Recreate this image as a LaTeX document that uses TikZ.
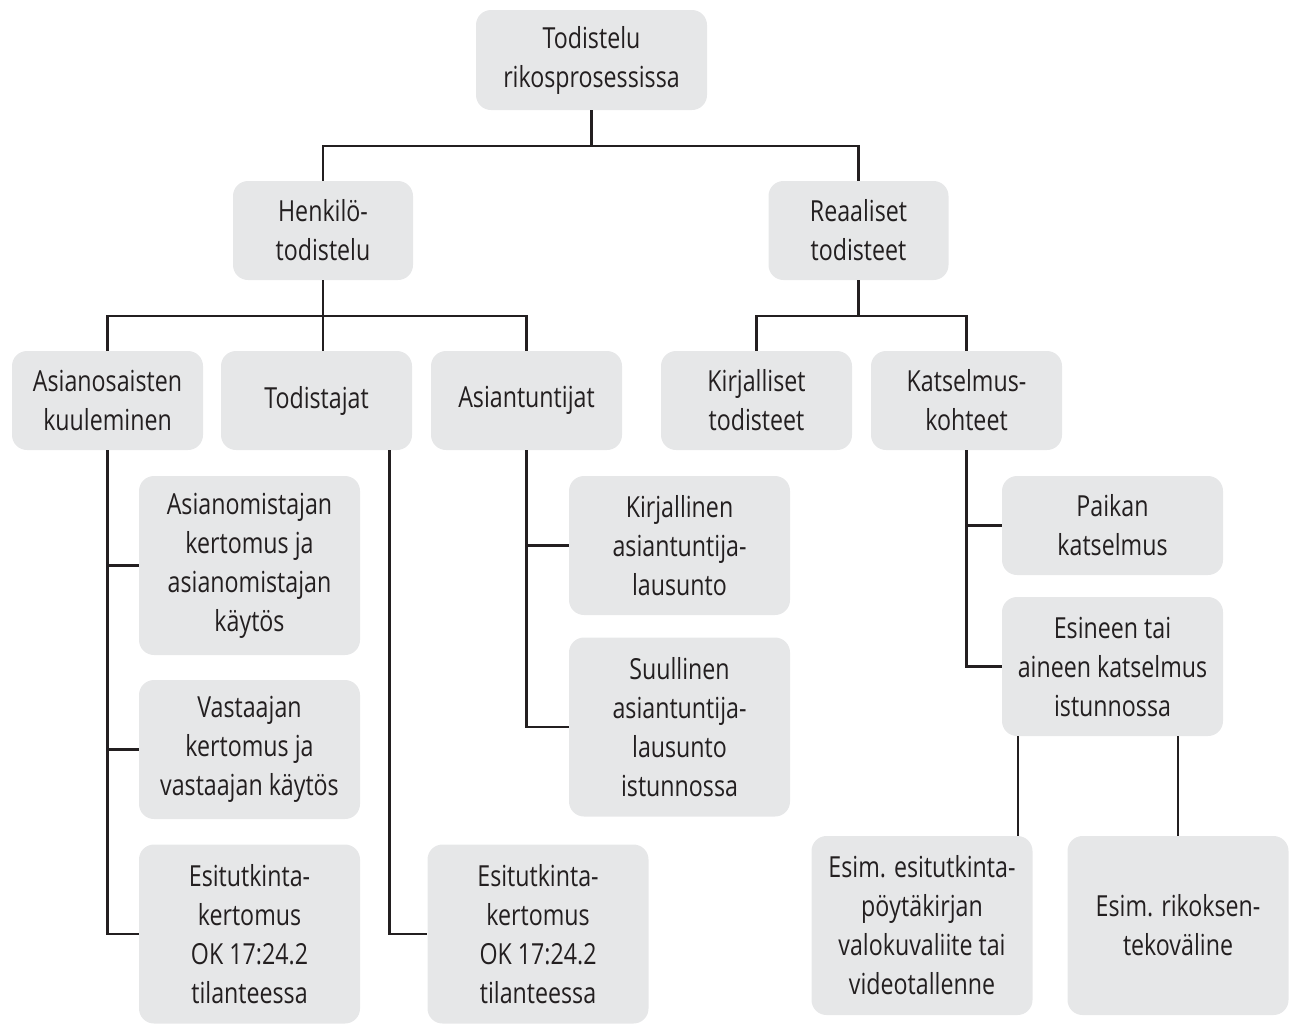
\documentclass[tikz,border=0pt]{standalone}
\usepackage{fontspec}
\setmainfont{Open Sans}[FakeStretch=0.8]
\usetikzlibrary{calc}
\definecolor{boxfill}{HTML}{E6E7E8}
\definecolor{ink}{HTML}{231F20}

\begin{document}
\begin{tikzpicture}[
  x=0.5pt,
  y=-0.5pt,
  tree box/.style={
    fill=boxfill,
    text=ink,
    rounded corners=7.5pt,
    align=center,
    inner sep=0pt,
    font=\fontsize{14.5}{19.5}\selectfont
  },
  box narrow/.style={minimum width=90pt},
  box mid/.style={minimum width=95.5pt},
  box wide/.style={minimum width=110.5pt},
  rows 2/.style={minimum height=49.5pt},
  rows 3/.style={minimum height=69.5pt},
  rows 4/.style={minimum height=89.5pt},
  tree link/.style={
    draw=ink,
    line width=1.15pt
  },
]
\useasboundingbox (0,0) rectangle (1294,1023);

% levels 1 and 2
\node[tree box, minimum width=115.5pt, minimum height=50pt] (proc) at (591.5,60) {Todistelu\\rikosprosessissa};
\node[tree box, box narrow, rows 2] (henk) at (323,230.5) {Henkilö-\\todistelu};
\node[tree box, box narrow, rows 2] (reaal) at (858.5,230.5) {Reaaliset\\todisteet};

% level 3
\node[tree box, box mid, rows 2] (asian) at (107.5,400.5) {Asianosaisten\\kuuleminen};
\node[tree box, box mid, rows 2] (todist) at (316.5,400.5) {Todistajat};
\node[tree box, box mid, rows 2] (asiant) at (526.5,400.5) {Asiantuntijat};
\node[tree box, box mid, rows 2] (kirjt) at (756.5,400.5) {Kirjalliset\\todisteet};
\node[tree box, box mid, rows 2] (katk) at (966.5,400.5) {Katselmus-\\kohteet};

% leaves
\node[tree box, box wide, rows 4] (aom) at (249.5,565.5) {Asianomistajan\\kertomus ja\\asianomistajan\\käytös};
\node[tree box, box wide, rows 3] (vast) at (249.5,749.5) {Vastaajan\\kertomus ja\\vastaajan käytös};
\node[tree box, box wide, rows 4] (esi1) at (249.5,934) {Esitutkinta-\\kertomus\\OK 17:24.2\\tilanteessa};
\node[tree box, box wide, rows 4] (esi2) at (538,934) {Esitutkinta-\\kertomus\\OK 17:24.2\\tilanteessa};
\node[tree box, box wide, rows 3] (kirjl) at (679.5,545.5) {Kirjallinen\\asiantuntija-\\lausunto};
\node[tree box, box wide, rows 4] (suul) at (679.5,727) {Suullinen\\asiantuntija-\\lausunto\\istunnossa};
\node[tree box, box wide, rows 2] (paikka) at (1112.5,525.5) {Paikan\\katselmus};
\node[tree box, box wide, rows 3] (esine) at (1112.5,666.5) {Esineen tai\\aineen katselmus\\istunnossa};
\node[tree box, box wide, rows 4] (esim1) at (922,925.5) {Esim. esitutkinta-\\pöytäkirjan\\valokuvaliite tai\\videotallenne};
\node[tree box, box wide, rows 4] (esim2) at (1178,925.5) {Esim. rikoksen-\\tekoväline};

% connectors
\coordinate (bus1) at (0,146);
\coordinate (bus2) at (0,316);
\coordinate (todtap) at ($(todist.south)+(73,0)$);
\coordinate (esimtap) at ($(esim1.north)+(96,0)$);
\draw[tree link] (proc.south) -- (proc.south |- bus1);
\draw[tree link] (henk.north) |- (proc.south |- bus1) -| (reaal.north);
\draw[tree link] (henk.south) -- (henk.south |- todist.north);
\draw[tree link] (asian.north) |- (henk.south |- bus2) -| (asiant.north);
\draw[tree link] (reaal.south) -- (reaal.south |- bus2);
\draw[tree link] (kirjt.north) |- (reaal.south |- bus2) -| (katk.north);

\draw[tree link] (asian.south) |- (aom.west);
\draw[tree link] (asian.south) |- (vast.west);
\draw[tree link] (asian.south) |- (esi1.west);
\draw[tree link] (todtap) |- (esi2.west);
\draw[tree link] (asiant.south) |- (kirjl.west);
\draw[tree link] (asiant.south) |- (suul.west);
\draw[tree link] (katk.south) |- (paikka.west);
\draw[tree link] (katk.south) |- (esine.west);
\draw[tree link] (esimtap) -- (esimtap |- esine.south);
\draw[tree link] (esim2.north) -- (esim2.north |- esine.south);
\end{tikzpicture}
\end{document}
